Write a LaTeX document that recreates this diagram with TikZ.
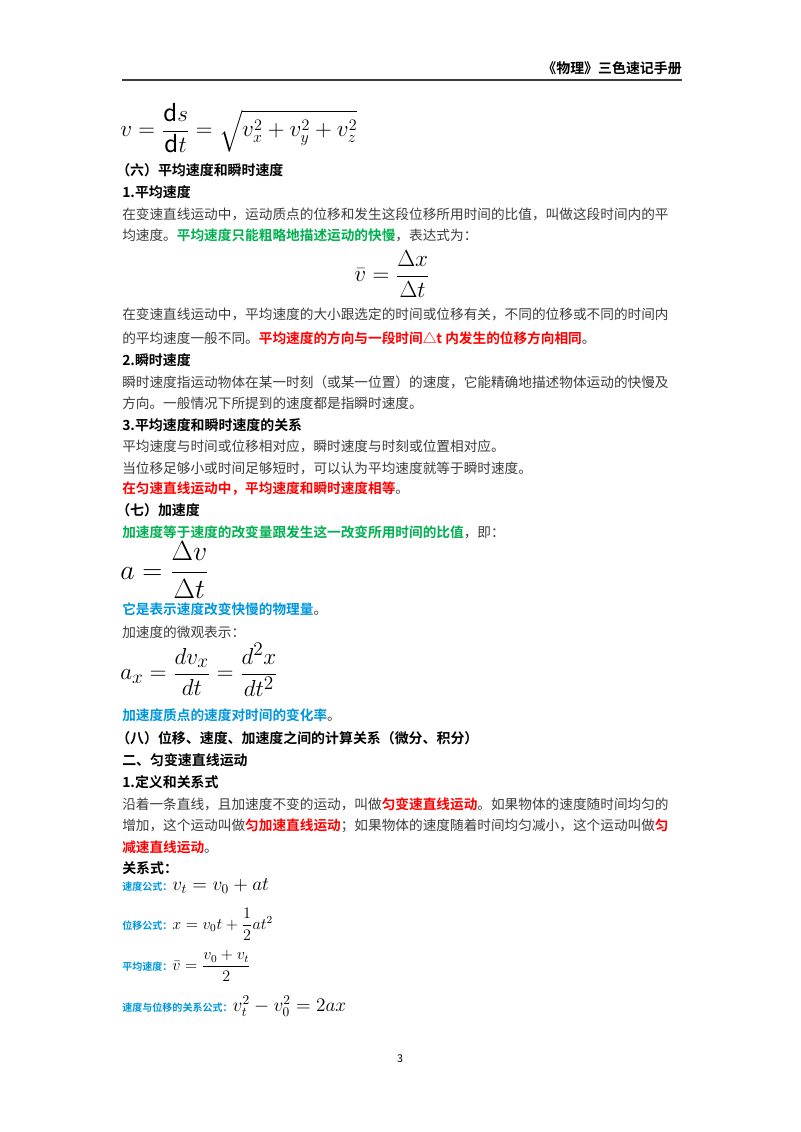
\documentclass[tikz,border=0pt]{standalone}
\usepackage{amsmath}
\usepackage{fontspec}
\setmainfont{Noto Sans CJK SC}[BoldFont={* Bold}]
\definecolor{kgreen}{RGB}{0,176,80}
\definecolor{kred}{RGB}{255,0,0}
\definecolor{kblue}{RGB}{0,150,220}
\definecolor{kgray}{RGB}{60,60,60}
\tikzset{
  line/.style={anchor=west, inner sep=0pt, text=kgray, font=\fontsize{10.2}{12}\selectfont},
  head/.style={anchor=west, inner sep=0pt, font=\fontsize{10.4}{12}\selectfont\bfseries},
  eq/.style={anchor=west, inner sep=0pt},
}
\newcommand{\gr}[1]{\textcolor{kgreen}{\bfseries #1}}
\newcommand{\rd}[1]{\textcolor{kred}{\bfseries #1}}
\newcommand{\bl}[1]{\textcolor{kblue}{\bfseries #1}}
\begin{document}
\begin{tikzpicture}[x=0.02625cm, y=-0.02625cm]
  \useasboundingbox (0,0) rectangle (800,1132);

  % Header
  \node[anchor=east, inner sep=0pt, font=\fontsize{10.4}{12}\selectfont\bfseries] (hd) at (682,68) {《物理》三色速记手册};
  \draw[thick, kgray] (122,80) -- (682,80);

  % Speed formula
  \node[eq] (f1) at (120,128) {\fontsize{17}{20}\selectfont $v=\dfrac{\mathrm{d}s}{\mathrm{d}t}=\sqrt{v_x^2+v_y^2+v_z^2}$};

  % (六)
  \node[head] (s6) at (116,170) {（六）平均速度和瞬时速度};
  \node[head] (s61) at (122,192) {1.平均速度};
  \node[line] (l1) at (122,214) {在变速直线运动中，运动质点的位移和发生这段位移所用时间的比值，叫做这段时间内的平};
  \node[line] (l2) at (122,235) {均速度。\gr{平均速度只能粗略地描述运动的快慢}，表达式为：};
  \node[anchor=center, inner sep=0pt] (f2) at (392,274) {\fontsize{19}{22}\selectfont $\bar{v}=\dfrac{\Delta x}{\Delta t}$};
  \node[line] (l3) at (122,314) {在变速直线运动中，平均速度的大小跟选定的时间或位移有关，不同的位移或不同的时间内};
  \node[line] (l4) at (122,338) {的平均速度一般不同。\rd{平均速度的方向与一段时间△t 内发生的位移方向相同}。};
  \node[head] (s62) at (122,360) {2.瞬时速度};
  \node[line] (l5) at (122,382) {瞬时速度指运动物体在某一时刻（或某一位置）的速度，它能精确地描述物体运动的快慢及};
  \node[line] (l6) at (122,403) {方向。一般情况下所提到的速度都是指瞬时速度。};
  \node[head] (s63) at (122,425) {3.平均速度和瞬时速度的关系};
  \node[line] (l7) at (122,446) {平均速度与时间或位移相对应，瞬时速度与时刻或位置相对应。};
  \node[line] (l8) at (122,468) {当位移足够小或时间足够短时，可以认为平均速度就等于瞬时速度。};
  \node[line] (l9) at (122,489) {\rd{在匀速直线运动中，平均速度和瞬时速度相等}。};

  % (七)
  \node[head] (s7) at (116,510) {（七）加速度};
  \node[line] (l10) at (122,532) {\gr{加速度等于速度的改变量跟发生这一改变所用时间的比值}，即：};
  \node[eq] (f3) at (120,570) {\fontsize{21}{24}\selectfont $a=\dfrac{\Delta v}{\Delta t}$};
  \node[line] (l11) at (122,609) {\bl{它是表示速度改变快慢的物理量}。};
  \node[line] (l12) at (122,632) {加速度的微观表示：};
  \node[eq] (f4) at (120,670) {\fontsize{19}{22}\selectfont $a_x=\dfrac{dv_x}{dt}=\dfrac{d^2x}{dt^2}$};
  \node[line] (l13) at (122,715) {\bl{加速度质点的速度对时间的变化率}。};

  % (八) and part two
  \node[head] (s8) at (116,738) {（八）位移、速度、加速度之间的计算关系（微分、积分）};
  \node[head] (p2) at (122,760) {二、匀变速直线运动};
  \node[head] (p21) at (122,782) {1.定义和关系式};
  \node[line] (l14) at (122,804) {沿着一条直线，且加速度不变的运动，叫做\rd{匀变速直线运动}。如果物体的速度随时间均匀的};
  \node[line] (l15) at (122,826) {增加，这个运动叫做\rd{匀加速直线运动}；如果物体的速度随着时间均匀减小，这个运动叫做\rd{匀}};
  \node[line] (l16) at (122,847) {\rd{减速直线运动}。};
  \node[head] (rel) at (122,868) {关系式：};

  % Relations
  \node[eq] (r1) at (122,886) {\textcolor{kblue}{\fontsize{7.5}{9}\selectfont\bfseries 速度公式：}\fontsize{14}{16}\selectfont $v_t=v_0+at$};
  \node[eq] (r2) at (122,924) {\textcolor{kblue}{\fontsize{7.5}{9}\selectfont\bfseries 位移公式：}\fontsize{12}{14}\selectfont $x=v_0t+\dfrac{1}{2}at^2$};
  \node[eq] (r3) at (122,966) {\textcolor{kblue}{\fontsize{7.5}{9}\selectfont\bfseries 平均速度：}\fontsize{12}{14}\selectfont $\bar{v}=\dfrac{v_0+v_t}{2}$};
  \node[eq] (r4) at (122,1006) {\textcolor{kblue}{\fontsize{7.5}{9}\selectfont\bfseries 速度与位移的关系公式：}\fontsize{14}{16}\selectfont $v_t^2-v_0^2=2ax$};

  % Page number
  \node[inner sep=0pt, font=\fontsize{8}{10}\selectfont] (pg) at (400,1059) {3};
\end{tikzpicture}
\end{document}
